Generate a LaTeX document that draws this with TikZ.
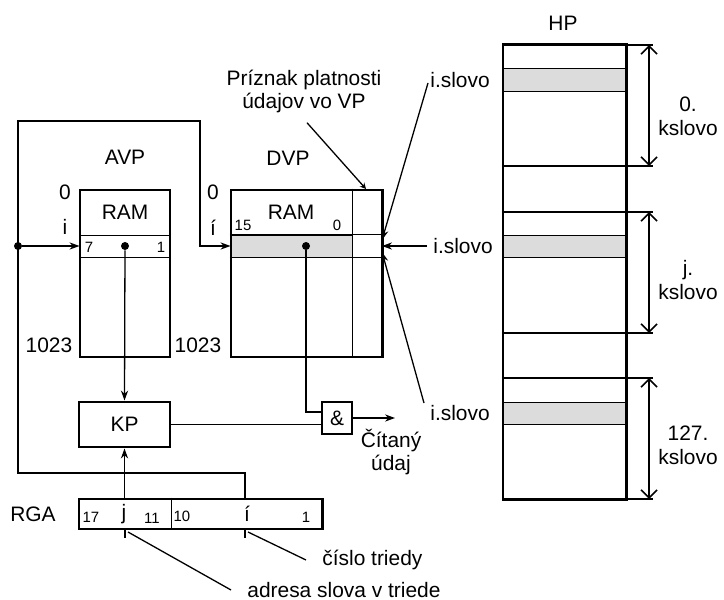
\documentclass[tikz,border=0pt]{standalone}
\usepackage{fontspec}
\setmainfont{Liberation Sans}
\usetikzlibrary{arrows.meta,calc}
\definecolor{cellgray}{HTML}{DCDCDC}

\begin{document}
\begin{tikzpicture}[x=0.5bp,y=-0.5bp,
  box/.style={draw,line width=1.5pt,inner sep=0pt},
  cell/.style={draw,line width=0.5pt,inner sep=0pt},
  lbl/.style={inner sep=0pt,font=\fontsize{10.5}{12}\selectfont},
  sml/.style={inner sep=0pt,font=\fontsize{7.5}{9}\selectfont},
  wire/.style={line width=0.65pt},
  arr/.style={wire,-{Stealth[length=5pt,width=3.6pt]}},
  dot/.style={circle,fill,inner sep=0pt,minimum size=4bp},
  dim/.style={line width=0.65pt,{Straight Barb[length=4pt,width=8pt,line width=0.8pt]}-{Straight Barb[length=4pt,width=8pt,line width=0.8pt]}},
]
  \useasboundingbox (0,0) rectangle (724,600);

  % AVP memory
  \node[lbl] (avplbl) at (125,157) {AVP};
  \node[box,minimum width=45bp,minimum height=83.5bp] (avp) at (125,273.5) {};
  \node[cell,minimum width=45bp,minimum height=11bp] (avprow) at (125,246) {};
  \node[lbl] at (125,212) {RAM};
  \node[sml] at (89,247) {7};
  \node[sml] at (161,247) {1};
  \node[lbl] at (65,192) {0};
  \node[lbl] at (65,227) {i};
  \node[lbl] at (49,345) {1023};
  \node[dot] (avpdot) at (125,246) {};

  % DVP memory
  \node[lbl] (dvplbl) at (288,158) {DVP};
  \node[cell,fill=cellgray,minimum width=60.5bp,minimum height=11bp] (dvpdata) at (291.5,246) {};
  \node[box,minimum width=75.5bp,minimum height=83.5bp] (dvp) at (306.5,273.5) {};
  \draw[wire] (dvp.west |- dvpdata.north) -- (dvp.east |- dvpdata.north);
  \draw[wire] (dvp.west |- dvpdata.south) -- (dvp.east |- dvpdata.south);
  \draw[wire] (dvpdata.east |- dvp.north) -- (dvpdata.east |- dvp.south);
  \node[lbl] at (291,212) {RAM};
  \node[sml] at (243,225) {15};
  \node[sml] at (337,225) {0};
  \node[lbl] at (213,192) {0};
  \node[lbl] at (213,228) {í};
  \node[lbl] at (198,345) {1023};
  \node[dot] (dvpdot) at (306,246) {};

  % KP, gate, RGA
  \node[box,lbl,minimum width=45.5bp,minimum height=22.5bp] (kp) at (124.5,424.5) {KP};
  \node[box,lbl,minimum width=15bp,minimum height=16bp] (and) at (337,418) {\&};
  \node[box,minimum width=121.5bp,minimum height=15bp] (rga) at (200.5,514) {};
  \draw[wire] (rga.north -| avp.east) -- (rga.south -| avp.east);
  \node[lbl] at (33,514) {RGA};
  \node[sml] at (91,517) {17};
  \node[lbl] at (124,514) {j};
  \node[sml] at (152,518) {11};
  \node[sml] at (182,516) {10};
  \node[lbl] at (247,514) {í};
  \node[sml] at (306,517) {1};

  % address wires
  \node[dot] (jn) at (18,246) {};
  \coordinate (rgai) at (245,499);
  \draw[arr] (rgai) |- (18,473) -- (18,121) -| (200,246) -- (dvpdata.west);
  \draw[arr] (jn) -- (avprow.west);
  \draw[arr] (avpdot) -- (kp.north);
  \draw[arr] (rga.north -| kp) -- (kp.south);
  \draw[wire] (dvpdot) |- ([yshift=3bp]and.west);
  \draw[wire] (kp.east) -- (kp.east -| and.west);
  \coordinate (out) at (395,418);
  \draw[arr] (and.east) -- (out);
  \node[lbl,align=center] (cit) at (391,452) {Čítaný\\údaj};

  % notes under RGA
  \draw[line width=1pt] (125,529) -- (125,538);
  \draw[line width=1pt] (245,529) -- (245,538);
  \node[lbl,anchor=west] (adr) at (247,590) {adresa slova v triede};
  \node[lbl,anchor=west] (cis) at (322,560) {číslo triedy};
  \draw[wire] (128,532) -- ([xshift=-8bp]adr.west);
  \draw[wire] (248,532) -- ([xshift=-8bp]cis.west);

  % flag and word notes
  \node[lbl,align=center] (priz) at (304,91.5) {Príznak platnosti\\údajov vo VP};
  \coordinate (prizend) at (366,189);
  \draw[wire,-{Stealth[length=3pt,width=3pt]}] ($(priz.south)+(3,9)$) -- (prizend);
  \coordinate (flag) at (382,246);
  \node[lbl,anchor=west] (isl1) at (430,80) {i.slovo};
  \node[lbl,anchor=west] (isl2) at (433,246) {i.slovo};
  \node[lbl,anchor=west] (isl3) at (430,413) {i.slovo};
  \draw[arr] ([shift={(-1bp,-1.5bp)}]isl1.west) -- ([yshift=3bp]flag);
  \draw[arr] ([xshift=-3bp]isl2.west) -- (flag);
  \draw[arr] ([shift={(-3bp,5bp)}]isl3.west) -- ([yshift=-3bp]flag);

  % HP memory
  \node[lbl] at (563,23) {HP};
  \node[cell,fill=cellgray,minimum width=61.5bp,minimum height=11.5bp] (hp0) at (564.5,80.5) {};
  \node[cell,fill=cellgray,minimum width=61.5bp,minimum height=11bp] (hpj) at (564.5,246) {};
  \node[cell,fill=cellgray,minimum width=61.5bp,minimum height=11bp] (hp127) at (564.5,413) {};
  \node[box,minimum width=61.5bp,minimum height=227bp] (hp) at (564.5,272) {};
  \foreach \y in {166,212,333,378}
    \draw[line width=1.1pt] (hp.west |- 0,\y) -- (hp.east |- 0,\y);
  \foreach \y in {45,166,212,333,378,499}
    \draw[wire] (hp.east |- 0,\y) -- (653,\y);
  \foreach \a/\b in {45/166,212/333,378/499}
    \draw[dim] (649,\a) -- (649,\b);
  \node[lbl,align=center] at (688,116) {0.\\kslovo};
  \node[lbl,align=center] at (688,280) {j.\\kslovo};
  \node[lbl,align=center] at (688,445) {127.\\kslovo};
\end{tikzpicture}
\end{document}
